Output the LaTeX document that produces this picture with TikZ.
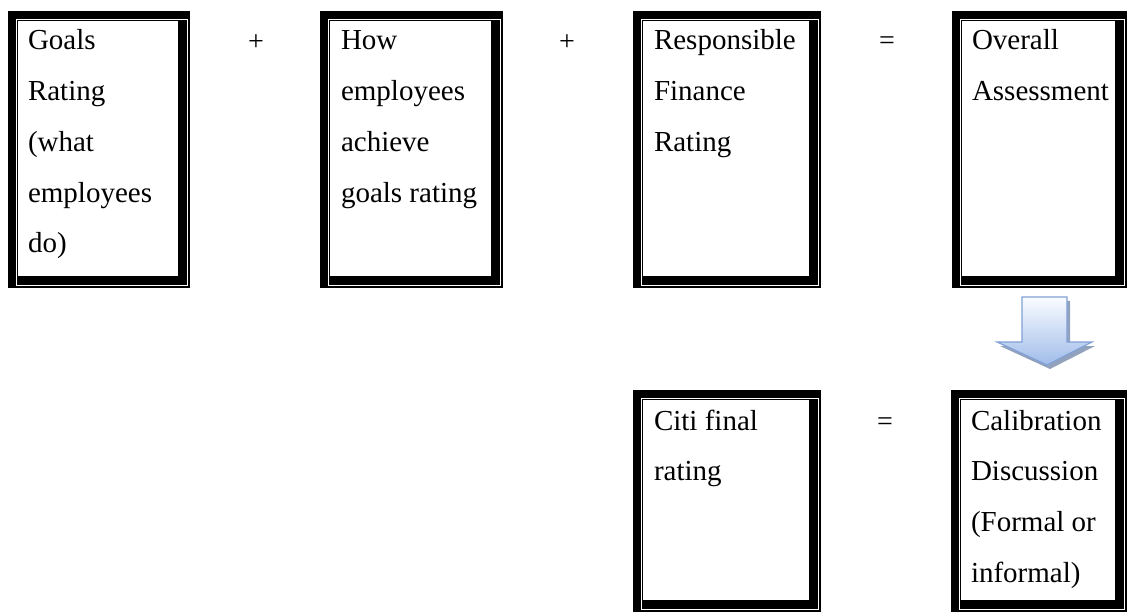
\documentclass[tikz,border=0pt]{standalone}
\usepackage{fontspec}
\setmainfont{Liberation Serif}
\definecolor{arrowline}{RGB}{128,160,214}
\definecolor{arrowlight}{RGB}{250,252,255}
\definecolor{arrowblue}{RGB}{160,188,234}
\definecolor{arrowshadow}{RGB}{128,146,176}
\begin{document}
\begin{tikzpicture}[x=1pt,y=-1pt,
  dframe/.style={rectangle, fill=black, inner sep=0pt, outer sep=0pt, anchor=north west,
    path picture={
      \fill[white] ([xshift=8pt,yshift=-8pt]path picture bounding box.north west) rectangle ([xshift=-2pt,yshift=2pt]path picture bounding box.south east);
      \fill[black] ([xshift=9pt,yshift=-9pt]path picture bounding box.north west) rectangle ([xshift=-3pt,yshift=3pt]path picture bounding box.south east);
      \fill[white] ([xshift=10pt,yshift=-10pt]path picture bounding box.north west) rectangle ([xshift=-12pt,yshift=12pt]path picture bounding box.south east);
    }},
  txt/.style={anchor=base west, inner sep=0pt, outer sep=0pt, align=left, font=\fontsize{29}{50.7}\selectfont},
  op/.style={inner sep=0pt, font=\fontsize{28}{28}\selectfont}
]
\useasboundingbox (0,0) rectangle (1127,612);
% frames
\node[dframe, minimum width=182pt, minimum height=277pt] (b1) at (8,11) {};
\node[dframe, minimum width=183pt, minimum height=277pt] (b2) at (320,11) {};
\node[dframe, minimum width=188pt, minimum height=277pt] (b3) at (633,11) {};
\node[dframe, minimum width=175pt, minimum height=277pt] (b4) at (952,11) {};
\node[dframe, minimum width=188pt, minimum height=222pt] (b5) at (633,390) {};
\node[dframe, minimum width=176pt, minimum height=222pt] (b6) at (951,390) {};
% texts (anchored at the baseline of their last line; line pitch 50.7)
\node[txt] (t1) at (28,252.8) {Goals\\Rating\\(what\\employees\\do)};
\node[txt] (t2) at (341,202.1) {How\\employees\\achieve\\goals rating};
\node[txt] (t3) at (654,151.4) {Responsible\\Finance\\Rating};
\node[txt] (t4) at (972,100.7) {Overall\\Assessment};
\node[txt] (t5) at (654,480.7) {Citi final\\rating};
\node[txt] (t6) at (971,582.1) {Calibration\\Discussion\\(Formal or\\informal)};
% operators
\node[op] (p1) at (256,43) {+};
\node[op] (p2) at (567,43) {+};
\node[op] (e1) at (887,43) {=};
\node[op] (e2) at (885,424) {=};
% block arrow
\fill[arrowshadow, opacity=0.85] (1025,301) -- (1070,301) -- (1070,346) -- (1095,346) -- (1050,369) -- (1000,346) -- (1025,346) -- cycle;
\shade[top color=arrowlight, bottom color=arrowblue, draw=arrowline, line width=1.2pt, line join=miter]
  (1022,297) -- (1067,297) -- (1067,342) -- (1092,342) -- (1047,365) -- (997,342) -- (1022,342) -- cycle;
\end{tikzpicture}
\end{document}
